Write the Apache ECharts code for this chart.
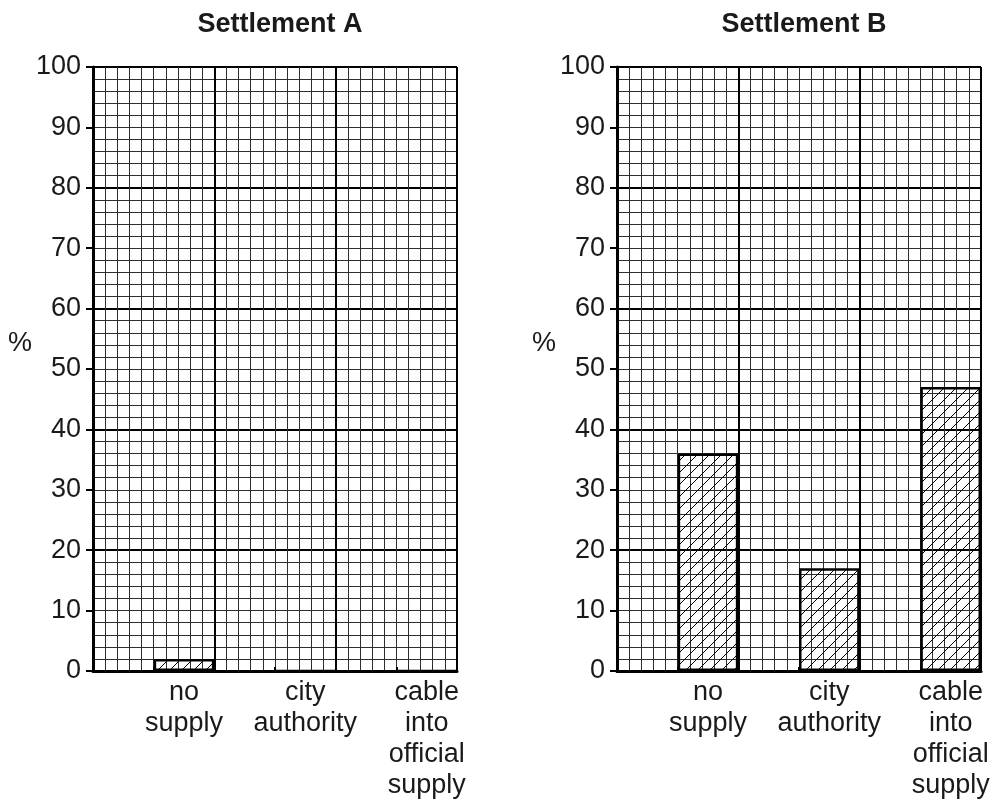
<!DOCTYPE html>
<html><head><meta charset="utf-8">
<script src="https://cdn.jsdelivr.net/npm/echarts@6/dist/echarts.min.js"></script>
<style>html,body{margin:0;padding:0;background:#fff}#c{width:995px;height:812px}</style>
</head><body><div id="c"></div>
<script>
const categories = ['no\nsupply', 'city\nauthority', 'cable\ninto\nofficial\nsupply'];
const settlementA = [2, 0, 0];
const settlementB = [36, 17, 47];
const panelTitles = ['Settlement A', 'Settlement B'];
const yAxisName = '%';
const yMin = 0, yMax = 100, yStep = 10;

const FONT = '"Liberation Sans", Arial, Helvetica, sans-serif';
const TXT = '#1a1a1a';

function hatchCanvas() {
  const c = document.createElement('canvas');
  c.width = 12; c.height = 12;
  const g = c.getContext('2d');
  g.strokeStyle = '#000'; g.lineWidth = 1;
  g.beginPath();
  g.moveTo(0, 12); g.lineTo(12, 0);
  g.moveTo(-2, 2); g.lineTo(2, -2);
  g.moveTo(10, 14); g.lineTo(14, 10);
  g.stroke();
  return c;
}
const hatch = hatchCanvas();

// each category gets an empty slot before it (the bar sits in the right half of each 10-cell section)
const slotCats = [];
categories.forEach(c => { slotCats.push(''); slotCats.push(c); });
function slotData(vals) { const d = []; vals.forEach(v => { d.push(null); d.push(v); }); return d; }

const panels = [settlementA, settlementB];
const gridLefts = [93, 617];

const grid = [], xAxis = [], yAxis = [], series = [], title = [], graphic = [];
panels.forEach((vals, g) => {
  grid.push({ left: gridLefts[g], top: 67, width: 364, height: 604, containLabel: false, outerBoundsMode: 'none' });
  title.push({ text: panelTitles[g], left: gridLefts[g] + 182, top: 6, textAlign: 'center',
    textStyle: { fontFamily: FONT, fontSize: 27, fontWeight: 'bold', color: TXT } });
  graphic.push({ type: 'text', x: gridLefts[g] - 73, y: 344,
    style: { text: yAxisName, font: '27px ' + FONT, fill: TXT, textAlign: 'center', textVerticalAlign: 'middle' } });
  const xi = xAxis.length, yi = yAxis.length;
  const hid = { axisLine: { show: false }, axisTick: { show: false }, axisLabel: { show: false } };
  // fine vertical lines
  xAxis.push(Object.assign({ type: 'value', gridIndex: g, position: 'bottom', offset: 0, min: 0, max: 30, interval: 1,
    splitLine: { show: true, lineStyle: { color: '#2e2e2e', width: 1 } } }, hid));
  // major vertical lines
  xAxis.push(Object.assign({ type: 'value', gridIndex: g, position: 'bottom', offset: 0, min: 0, max: 30, interval: 10,
    splitLine: { show: true, lineStyle: { color: '#000', width: 2 } } }, hid));
  // category axis
  xAxis.push({ type: 'category', gridIndex: g, position: 'bottom', offset: 0, data: slotCats, boundaryGap: true,
    axisLine: { show: true, lineStyle: { color: '#000', width: 3 } },
    axisTick: { show: true, inside: true, length: 4, interval: 0, lineStyle: { color: '#000', width: 2 } },
    axisLabel: { interval: 0, fontFamily: FONT, fontSize: 27, lineHeight: 31, color: TXT, margin: 6 },
    splitLine: { show: false } });
  // fine horizontal lines
  yAxis.push(Object.assign({ type: 'value', gridIndex: g, position: 'left', offset: 0, min: yMin, max: yMax, interval: 2,
    splitLine: { show: true, lineStyle: { color: '#2e2e2e', width: 1 } } }, hid));
  // major horizontal lines
  yAxis.push(Object.assign({ type: 'value', gridIndex: g, position: 'left', offset: 0, min: yMin, max: yMax, interval: 20,
    splitLine: { show: true, lineStyle: { color: '#000', width: 2 } } }, hid));
  // main y axis
  yAxis.push({ type: 'value', gridIndex: g, position: 'left', offset: 0, min: yMin, max: yMax, interval: yStep,
    axisLine: { show: true, lineStyle: { color: '#000', width: 3 } },
    axisTick: { show: true, length: 7, lineStyle: { color: '#000', width: 2 } },
    axisLabel: { fontFamily: FONT, fontSize: 27, color: TXT, margin: 12 },
    splitLine: { show: false } });
  series.push({ type: 'bar', xAxisIndex: xi + 2, yAxisIndex: yi + 2,
    data: slotData(vals), barWidth: '100%', barGap: '0%', barCategoryGap: '0%',
    itemStyle: { color: { image: hatch, repeat: 'repeat' }, borderColor: '#000', borderWidth: 2.5 },
    emphasis: { disabled: true }, silent: true, z: 5 });
});

const chart = echarts.init(document.getElementById('c'), null, { renderer: 'canvas' });
chart.setOption({ animation: false, backgroundColor: '#fff', title, grid, xAxis, yAxis, series, graphic });
</script></body></html>
